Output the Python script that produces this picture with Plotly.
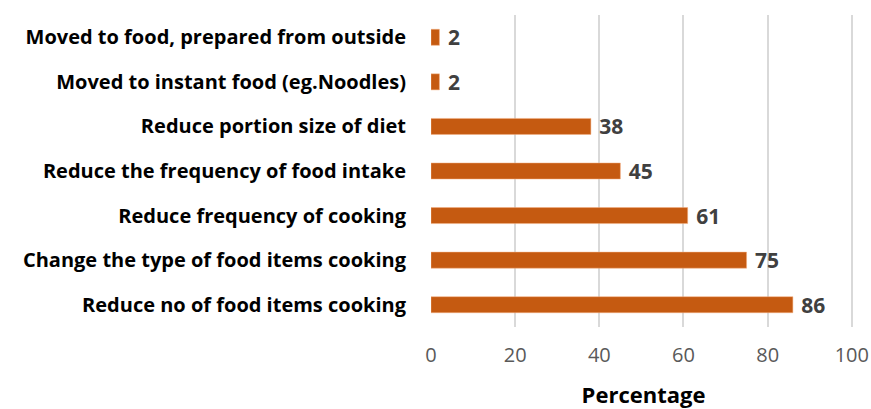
import plotly.graph_objects as go

# Coping strategies and share of respondents (%)
categories = [
    "Reduce no of food items cooking",
    "Change the type of food items cooking",
    "Reduce frequency of cooking",
    "Reduce the frequency of food intake",
    "Reduce portion size of diet",
    "Moved to instant food (eg.Noodles)",
    "Moved to food, prepared from outside",
]
values = [86, 75, 61, 45, 38, 2, 2]
tick_values = [0, 20, 40, 60, 80, 100]

fig = go.Figure(
    go.Bar(
        x=values,
        y=categories,
        orientation="h",
        marker=dict(color="#c55a11", line=dict(color="#f4b183", width=0.5)),
        width=0.36,
        text=[" " + str(v) for v in values],
        textposition="outside",
        constraintext="none",
        textfont=dict(family="Open Sans", size=21, color="#404040", weight="bold"),
        cliponaxis=False,
    )
)

fig.update_layout(
    width=871,
    height=409,
    margin=dict(l=431, r=15, t=15, b=82),
    paper_bgcolor="white",
    plot_bgcolor="white",
    showlegend=False,
    xaxis=dict(
        range=[0, 101],
        tickvals=tick_values,
        automargin=False,
        showgrid=True,
        gridcolor="#d9d9d9",
        gridwidth=1.5,
        zeroline=False,
        showline=False,
        ticks="outside",
        ticklen=10,
        tickcolor="rgba(0,0,0,0)",
        tickfont=dict(family="Open Sans", size=20, color="#595959"),
        title=dict(
            text="Percentage",
            font=dict(family="Open Sans", size=22, color="#000000", weight="bold"),
            standoff=24,
        ),
    ),
    yaxis=dict(
        categoryorder="array",
        categoryarray=categories,
        range=[-0.5, 6.5],
        automargin=False,
        showgrid=False,
        zeroline=False,
        showline=False,
        ticks="outside",
        ticklen=20,
        tickcolor="rgba(0,0,0,0)",
        tickfont=dict(family="Open Sans", size=20, color="#000000", weight="bold"),
    ),
)

fig.write_html("out.html")
